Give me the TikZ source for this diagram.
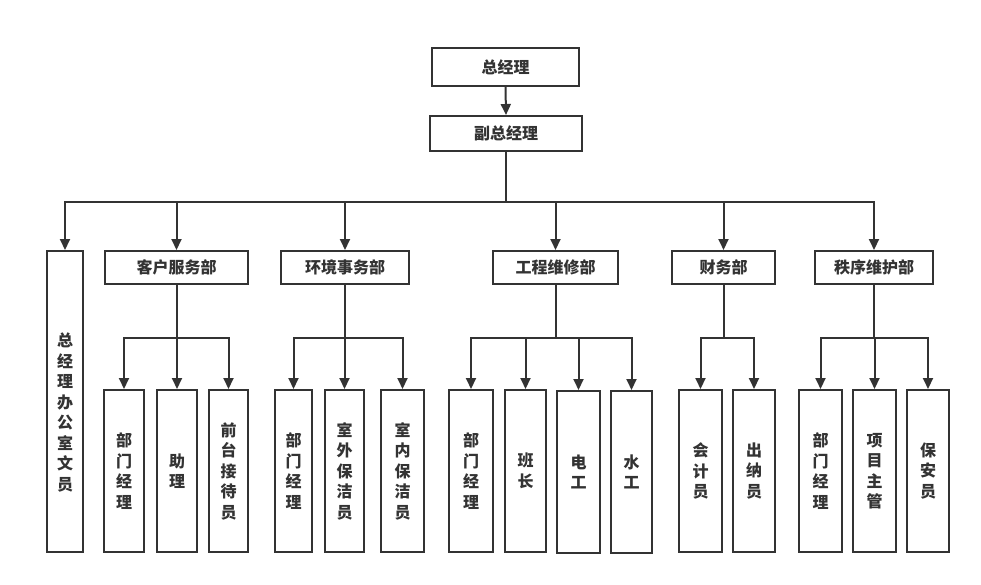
\documentclass[tikz,border=0pt]{standalone}
\usepackage{fontspec}
\setmainfont{Noto Sans CJK SC}
\usetikzlibrary{arrows.meta}
\definecolor{lineGray}{HTML}{333333}

\begin{document}
\begin{tikzpicture}[x=1pt,y=-1pt,
      lineGray, line width=2pt,
      headBox/.style={draw,line width=2pt,inner sep=0pt,
        font=\bfseries\fontsize{16}{20}\selectfont},
      deptBox/.style={headBox,minimum height=33pt},
      staffBox/.style={headBox,minimum height=162pt,align=center,
        font=\bfseries\fontsize{16}{20.5}\selectfont},
      arr/.style={-{Triangle[length=11pt,width=10pt]}},
    ]
    \useasboundingbox (0,0) rectangle (981,585);

    % top
    \node[headBox,minimum width=147pt,minimum height=38pt] (gm) at (505.5,67) {总经理};
    \node[headBox,minimum width=152pt,minimum height=35pt] (vgm) at (506,133.5) {副总经理};
    \draw[arr] (gm.south) -- (vgm.north);

    % departments
    \node[headBox,minimum width=36pt,minimum height=301pt,
      label={[yshift=-11pt,align=center,
        font=\bfseries\fontsize{16}{20.5}\selectfont]center:总\\经\\理\\办\\公\\室\\文\\员}]
      (office) at (65,401.5) {};
    \node[deptBox,minimum width=143pt] (cs) at (176.5,267.5) {客户服务部};
    \node[deptBox,minimum width=128pt] (env) at (345,267.5) {环境事务部};
    \node[deptBox,minimum width=125pt] (eng) at (555.5,267.5) {工程维修部};
    \node[deptBox,minimum width=103pt] (fin) at (723.5,267.5) {财务部};
    \node[deptBox,minimum width=118pt] (sec) at (874,267.5) {秩序维护部};

    \foreach \d in {office,cs,env,eng,fin,sec}
      \draw[arr] (vgm.south) -- ++(0,50) -| (\d.north);

    % staff
    \node[staffBox,minimum width=40pt] (csMgr) at (124,471) {部\\门\\经\\理};
    \node[staffBox,minimum width=40pt] (csAsst) at (177,471) {助\\理};
    \node[staffBox,minimum width=39pt] (csDesk) at (228.5,471) {前\\台\\接\\待\\员};

    \node[staffBox,minimum width=37pt] (envMgr) at (293.5,471) {部\\门\\经\\理};
    \node[staffBox,minimum width=39pt] (envOut) at (344.5,471) {室\\外\\保\\洁\\员};
    \node[staffBox,minimum width=43pt] (envIn) at (402.5,471) {室\\内\\保\\洁\\员};

    \node[staffBox,minimum width=44pt] (engMgr) at (471,471) {部\\门\\经\\理};
    \node[staffBox,minimum width=41pt] (engLead) at (525.5,471) {班\\长};
    \node[staffBox,minimum width=43pt] (engElec) at (578.5,472) {电\\工};
    \node[staffBox,minimum width=41pt] (engPlumb) at (631.5,472) {水\\工};

    \node[staffBox,minimum width=43pt] (finAcc) at (700.5,471) {会\\计\\员};
    \node[staffBox,minimum width=42pt] (finCash) at (754,471) {出\\纳\\员};

    \node[staffBox,minimum width=43pt] (secMgr) at (820.5,471) {部\\门\\经\\理};
    \node[staffBox,minimum width=43pt] (secProj) at (874.5,471) {项\\目\\主\\管};
    \node[staffBox,minimum width=42pt] (secGuard) at (928,471) {保\\安\\员};

    \foreach \d/\s in {cs/csMgr,cs/csAsst,cs/csDesk,
        env/envMgr,env/envOut,env/envIn,
        eng/engMgr,eng/engLead,eng/engElec,eng/engPlumb,
        fin/finAcc,fin/finCash,
        sec/secMgr,sec/secProj,sec/secGuard}
      \draw[arr] (\d.south) -- ++(0,53) -| (\s.north);

\end{tikzpicture}
\end{document}
